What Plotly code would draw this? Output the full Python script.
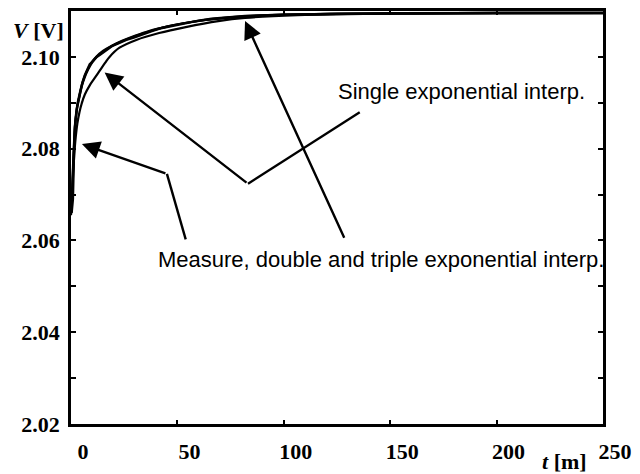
import plotly.graph_objects as go

# ---------------- data ----------------
t_meas = [0.3, 0.9, 1.4, 1.9, 2.8, 4.2, 5.3, 6.5, 7.6, 8.8, 10.4, 12.1, 13.5, 14.9,
          17.0, 19.5, 22.5, 26.0, 29.5, 33.5, 38.0, 42.8, 48.0, 53.9, 60.0, 66.0,
          74.0, 81.8, 92.0, 106.4, 125.0, 152.9, 180.0, 199.4, 225.0, 250.0]
v_meas = [2.0660, 2.0690, 2.0790, 2.0850, 2.0888, 2.0922, 2.0943, 2.0960, 2.0972,
          2.0984, 2.0991, 2.1000, 2.1004, 2.1009, 2.1016, 2.1024, 2.1030, 2.1037,
          2.1042, 2.1049, 2.1056, 2.1063, 2.1068, 2.1074, 2.1079, 2.1083, 2.1086,
          2.1089, 2.1091, 2.1093, 2.1094, 2.1095, 2.1095, 2.1096, 2.1096, 2.1096]

t_double = [0, 0.5, 1, 1.5, 2, 3, 4, 5, 6.5, 8, 10, 12, 15, 19, 24, 30, 37, 45,
            55, 67, 82, 100, 125, 160, 200, 250]
v_double = [2.0655, 2.0700, 2.0760, 2.0815, 2.0855, 2.0893, 2.0915, 2.0935, 2.0956,
            2.0972, 2.0988, 2.1000, 2.1011, 2.1023, 2.1034, 2.1045, 2.1056, 2.1066,
            2.1075, 2.1083, 2.1089, 2.1092, 2.1094, 2.1095, 2.1096, 2.1096]

t_triple = [0, 0.5, 1, 1.5, 2, 3, 4, 5, 6.5, 8, 10, 12, 15, 19, 24, 30, 37, 45,
            55, 67, 82, 100, 125, 160, 200, 250]
v_triple = [2.0658, 2.0705, 2.0770, 2.0822, 2.0860, 2.0897, 2.0919, 2.0938, 2.0959,
            2.0974, 2.0990, 2.1001, 2.1013, 2.1024, 2.1035, 2.1046, 2.1057, 2.1066,
            2.1075, 2.1082, 2.1088, 2.1092, 2.1094, 2.1095, 2.1096, 2.1096]

t_single = [0, 0.5, 1, 1.5, 2, 3, 4, 5, 6.5, 8.8, 11, 13.5, 16, 18.1, 22.8, 30.7,
            41.4, 53.9, 69.2, 81.8, 106.4, 130, 152.9, 200, 250]
v_single = [2.0660, 2.0700, 2.0745, 2.0785, 2.0815, 2.0855, 2.0880, 2.0898, 2.0918,
            2.0938, 2.0953, 2.0970, 2.0987, 2.1000, 2.1020, 2.1037, 2.1052, 2.1065,
            2.1078, 2.1085, 2.1091, 2.1093, 2.1094, 2.1095, 2.1095]

x_ticks = [0, 50, 100, 150, 200, 250]
y_ticks = [2.02, 2.04, 2.06, 2.08, 2.10]

label_single = "Single exponential interp."
label_measure = "Measure, double and triple exponential interp."

# ---------------- layout geometry ----------------
W, H = 640, 474
ML, MR, MT, MB = 71, 31, 8, 50
XR = [0, 250]
YR = [2.02, 2.11]
PW, PH = W - ML - MR, H - MT - MB


def px2x(px):
    return XR[0] + (px - ML) / PW * (XR[1] - XR[0])


def py2y(py):
    return YR[0] + (H - MB - py) / PH * (YR[1] - YR[0])


fig = go.Figure()
line_style = dict(color="black", width=2.2)
fig.add_trace(go.Scatter(x=t_single, y=v_single, mode="lines", line=line_style,
                         line_shape="spline", showlegend=False, hoverinfo="skip"))
fig.add_trace(go.Scatter(x=t_double, y=v_double, mode="lines", line=line_style,
                         line_shape="spline", showlegend=False, hoverinfo="skip"))
fig.add_trace(go.Scatter(x=t_triple, y=v_triple, mode="lines", line=line_style,
                         line_shape="spline", showlegend=False, hoverinfo="skip"))
fig.add_trace(go.Scatter(x=t_meas, y=v_meas, mode="lines", line=dict(color="black", width=2.4),
                         showlegend=False, hoverinfo="skip"))

serif = dict(family="Liberation Serif", size=22, color="black", weight="bold")
sans = dict(family="Liberation Sans", size=22, color="black")

annotations = []
shapes = []

# texts
annotations.append(dict(x=px2x(466), y=py2y(89), xref="x", yref="y", text=label_single,
                        showarrow=False, font=sans, xanchor="center", yanchor="middle"))
annotations.append(dict(x=px2x(384), y=py2y(258), xref="x", yref="y", text=label_measure,
                        showarrow=False, font=sans, xanchor="center", yanchor="middle"))
# axis titles
annotations.append(dict(x=0, y=1, xref="paper", yref="paper", xshift=-33, yshift=-19,
                        text="<i>V</i> [V]", showarrow=False, font=serif,
                        xanchor="center", yanchor="middle"))
annotations.append(dict(x=1, y=0, xref="paper", yref="paper", xshift=-39, yshift=-37,
                        text="<i>t</i> [m]", showarrow=False, font=serif,
                        xanchor="center", yanchor="middle"))


def arrow(tip, tail):
    return dict(x=px2x(tip[0]), y=py2y(tip[1]), ax=px2x(tail[0]), ay=py2y(tail[1]),
                xref="x", yref="y", axref="x", ayref="y", text="", showarrow=True,
                arrowhead=2, arrowsize=1.5, arrowwidth=2.4, arrowcolor="black")


def seg(a, b):
    return dict(type="line", xref="x", yref="y", x0=px2x(a[0]), y0=py2y(a[1]),
                x1=px2x(b[0]), y1=py2y(b[1]), line=dict(color="black", width=2.4))


# arrow 1 (measure -> steep part)
shapes.append(seg((187, 238), (168, 172)))
annotations.append(arrow((82, 142), (168, 172)))
# arrow 2 (single -> knee)
shapes.append(seg((363, 110), (250, 182)))
annotations.append(arrow((105, 70), (250, 182)))
# arrow 3 (measure -> top)
annotations.append(arrow((247, 18), (348, 238)))

fig.update_layout(
    width=W, height=H, autosize=False,
    margin=dict(l=ML, r=MR, t=MT, b=MB, pad=0),
    plot_bgcolor="white", paper_bgcolor="white",
    annotations=annotations, shapes=shapes,
    xaxis=dict(range=XR, tickvals=x_ticks, ticktext=[str(v) for v in x_ticks],
               ticks="inside", ticklen=4, tickwidth=2, tickcolor="black",
               showline=True, linecolor="black", linewidth=2.5, mirror="ticks",
               showgrid=False, zeroline=False, tickfont=serif,
               ticklabelshift=12, ticklabelstandoff=6),
    yaxis=dict(range=YR, tickvals=y_ticks, ticktext=["%.2f" % v for v in y_ticks],
               ticks="inside", ticklen=5, tickwidth=2, tickcolor="black",
               minor=dict(dtick=0.01, tick0=2.02, ticks="inside", ticklen=5,
                          tickwidth=2, tickcolor="black", showgrid=False),
               showline=True, linecolor="black", linewidth=2.5, mirror="ticks",
               showgrid=False, zeroline=False, tickfont=serif,
               ticklabelstandoff=4),
)

fig.write_html(
    "out.html",
    config={"displayModeBar": False},
    post_script="document.body.style.margin='0';document.body.style.padding='0';"
                "document.body.style.overflow='hidden';",
)
